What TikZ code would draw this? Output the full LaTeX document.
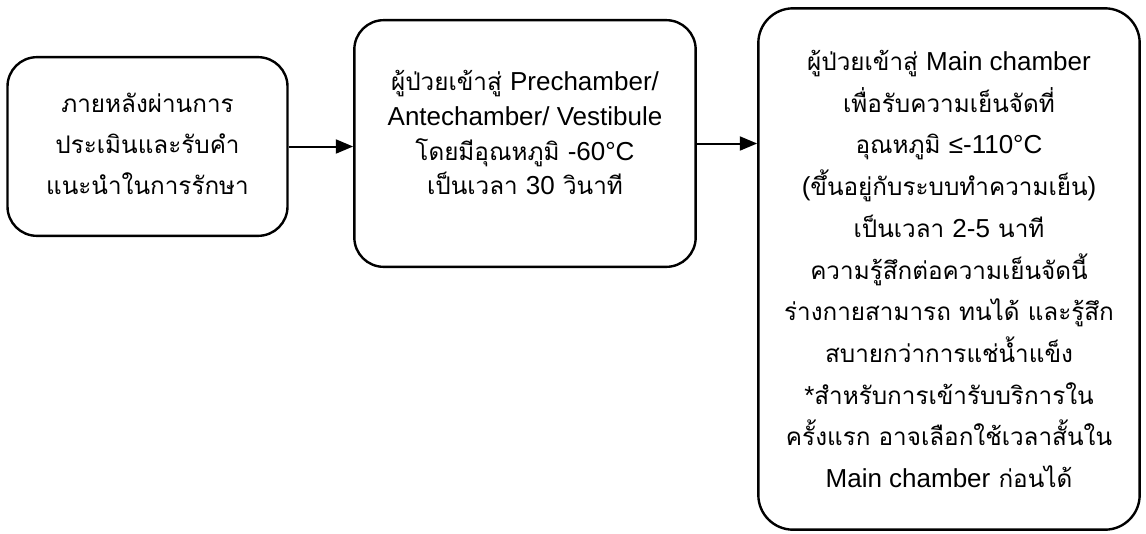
\documentclass[tikz,border=0pt]{standalone}
\usepackage{fontspec}
\setmainfont[Script=Thai, Scale=0.91]{Loma}
\newfontfamily\lat[Scale=0.975]{Liberation Sans}
\usetikzlibrary{arrows.meta}
\begin{document}
\begin{tikzpicture}[x=0.75pt, y=-0.75pt, line join=round, >={Triangle[length=13pt,width=10.5pt]},
	box/.style={draw, line width=1.8pt, align=center, inner sep=0pt},
	arr/.style={->, line width=1.5pt}]
	\useasboundingbox (0,0) rectangle (1146,533);
	\node[box, minimum width=210pt, minimum height=134pt, rounded corners=22pt,
		font=\fontsize{20}{31}\selectfont] (eval) at (147.5,146.5)
		{ภายหลังผ่านการ\\ประเมินและรับคำ\\แนะนำในการรักษา\rule[-4pt]{0pt}{0pt}};
	\node[box, minimum width=256pt, minimum height=185pt, rounded corners=22pt,
		font=\fontsize{20}{26}\selectfont] (pre) at (525,143.5)
		{ผู้ป่วยเข้าสู่ {\lat Prechamber/}\\{\lat Antechamber/ Vestibule}\\โดยมีอุณหภูมิ {\lat -60°C}\\เป็นเวลา {\lat 30} วินาที\rule[-16pt]{0pt}{0pt}};
	\node[box, minimum width=286pt, minimum height=391pt, rounded corners=26pt,
		font=\fontsize{20}{31.3}\selectfont] (main) at (949,269)
		{ผู้ป่วยเข้าสู่ {\lat Main chamber}\\เพื่อรับความเย็นจัดที่\\อุณหภูมิ {\lat ≤-110°C}\\{\lat (}ขึ้นอยู่กับระบบทำความเย็น{\lat )}\\เป็นเวลา {\lat 2-5} นาที\\ความรู้สึกต่อความเย็นจัดนี้\\ร่างกายสามารถ ทนได้ และรู้สึก\\สบายกว่าการแช่น้ำแข็ง\\{\lat *}สำหรับการเข้ารับบริการใน\\ครั้งแรก อาจเลือกใช้เวลาสั้นใน\\{\lat Main chamber} ก่อนได้};
	\draw[arr] (eval.east) -- (eval.east -| pre.west);
	\draw[arr] (pre.east) -- (pre.east -| main.west);
\end{tikzpicture}
\end{document}
